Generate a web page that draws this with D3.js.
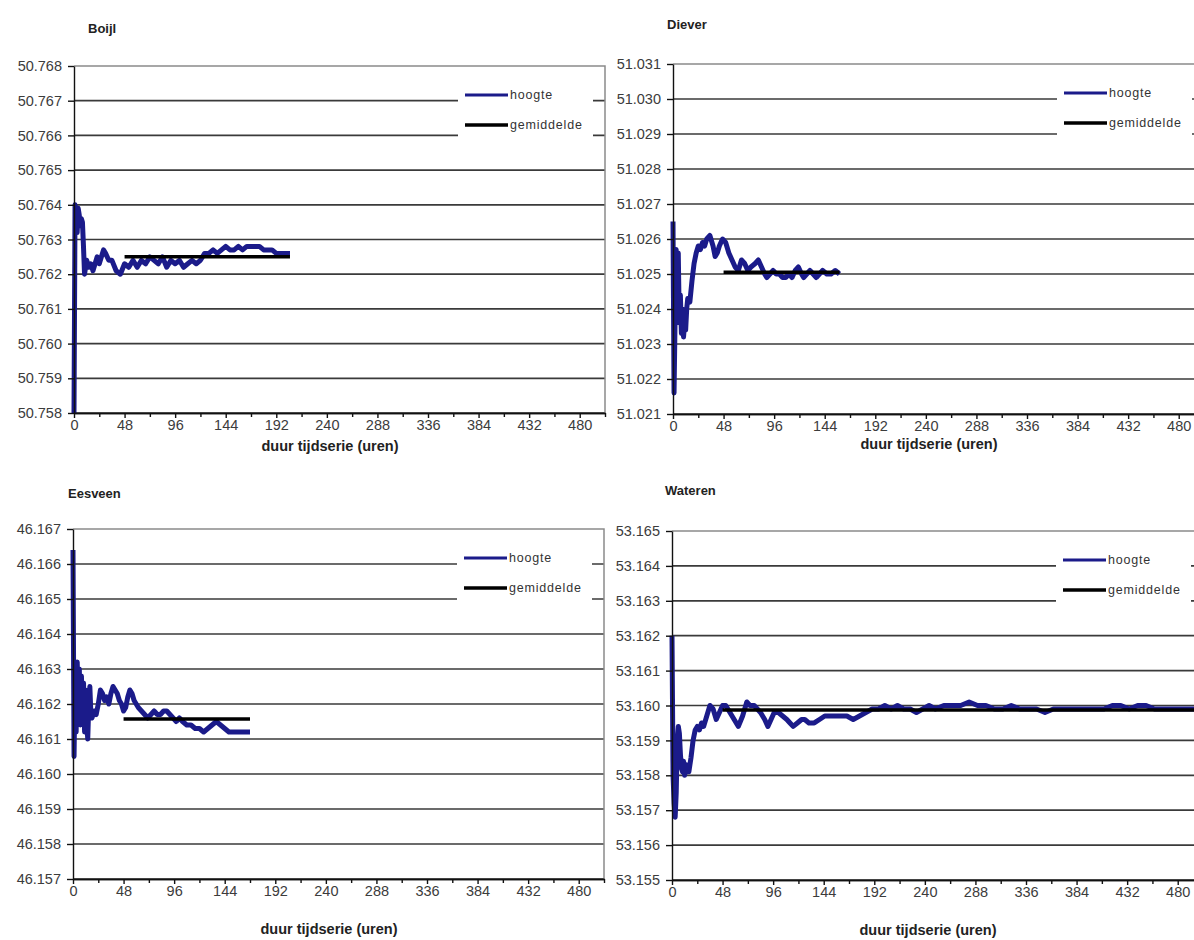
<!DOCTYPE html>
<html>
<head>
<meta charset="utf-8">
<script src="https://cdn.jsdelivr.net/npm/d3@7"></script>
<style>
    body { margin: 0; background: #fff; }
    svg text { font-family: "Liberation Sans", Arial, sans-serif; }
    .tick text { fill: #3c3c3c; font-size: 14.5px; }
    .axis path, .axis line { stroke: #111; stroke-width: 1.4; }
    .grid { stroke: #3a3a3a; stroke-width: 1.7; }
    .border { stroke: #8a8a8a; stroke-width: 1.5; fill: none; }
    .ptitle { font-weight: bold; font-size: 13px; fill: #222; }
    .xtitle { font-weight: bold; font-size: 14.5px; fill: #222; }
    .legtext { font-size: 12.5px; fill: #333; letter-spacing: 0.8px; }
</style>
</head>
<body>
<svg id="chart" width="1194" height="940"></svg>
<script>

// shared x axis (duur tijdserie in uren)
const hourTicks = [0, 48, 96, 144, 192, 240, 288, 336, 384, 432, 480];
const hourMinor = [24, 72, 120, 168, 216, 264, 312, 360, 408, 456, 504];
const legendLabels = ["hoogte", "gemiddelde"];

// Boijl
const boijlDomain = [50.758, 50.768];
const boijlHours = [0, 1, 2, 3, 4, 5, 6, 7, 8, 9, 10, 12, 14, 16, 18, 20, 22, 24, 28, 30, 33, 36, 40, 44, 48, 52, 56, 60, 64, 68, 72, 76, 80, 84, 88, 92, 96, 100, 104, 108, 112, 116, 120, 124, 128, 132, 136, 140, 144, 148, 152, 156, 160, 164, 168, 172, 176, 180, 184, 188, 192, 196, 200, 205];
const boijlHoogte = [50.7580, 50.7640, 50.7638, 50.7632, 50.7639, 50.7637, 50.7634, 50.7636, 50.7635, 50.7628, 50.7620, 50.7624, 50.7622, 50.7623, 50.7621, 50.7623, 50.7625, 50.7623, 50.7627, 50.7626, 50.7624, 50.7624, 50.7621, 50.7620, 50.7623, 50.7622, 50.7624, 50.7622, 50.7624, 50.7623, 50.7625, 50.7624, 50.7623, 50.7625, 50.7622, 50.7624, 50.7623, 50.7624, 50.7622, 50.7623, 50.7624, 50.7623, 50.7624, 50.7626, 50.7626, 50.7627, 50.7626, 50.7627, 50.7628, 50.7627, 50.7627, 50.7628, 50.7627, 50.7628, 50.7628, 50.7628, 50.7628, 50.7627, 50.7627, 50.7627, 50.7626, 50.7626, 50.7626, 50.7626];
const boijlGem = 50.7625;
const boijlGemHours = [48, 205];

// Diever
const dieverDomain = [51.021, 51.031];
const dieverHours = [0, 1, 2, 3, 4, 5, 6, 7, 8, 9, 10, 11, 12, 13, 14, 16, 18, 20, 22, 24, 26, 28, 30, 32, 35, 38, 40, 42, 44, 47, 50, 53, 56, 59, 62, 65, 68, 71, 74, 78, 81, 84, 87, 89, 92, 95, 98, 101, 104, 107, 110, 113, 116, 119, 122, 124, 127, 130, 133, 136, 139, 142, 146, 150, 154, 158];
const dieverHoogte = [51.0265, 51.0216, 51.0238, 51.0257, 51.0240, 51.0256, 51.0236, 51.0244, 51.0233, 51.0240, 51.0232, 51.0236, 51.0234, 51.0240, 51.0243, 51.0242, 51.0248, 51.0253, 51.0256, 51.0258, 51.0257, 51.0259, 51.0258, 51.0260, 51.0261, 51.0258, 51.0255, 51.0256, 51.0258, 51.0260, 51.0259, 51.0256, 51.0254, 51.0252, 51.0251, 51.0254, 51.0253, 51.0251, 51.0252, 51.0253, 51.0254, 51.0252, 51.0250, 51.0249, 51.0250, 51.0251, 51.0250, 51.0250, 51.0249, 51.0249, 51.0250, 51.0249, 51.0251, 51.0252, 51.0250, 51.0249, 51.0250, 51.0251, 51.0250, 51.0249, 51.0250, 51.0251, 51.0250, 51.0250, 51.0251, 51.0250];
const dieverGem = 51.02505;
const dieverGemHours = [48, 158];

// Eesveen
const eesveenDomain = [46.157, 46.167];
const eesveenHours = [0, 1, 2, 3, 4, 5, 6, 7, 8, 9, 10, 11, 12, 13, 14, 15, 16, 17, 18, 20, 22, 24, 26, 28, 30, 32, 34, 36, 38, 40, 42, 44, 46, 48, 50, 52, 54, 56, 58, 60, 62, 65, 68, 71, 74, 77, 80, 83, 86, 89, 92, 95, 98, 101, 104, 108, 112, 116, 120, 124, 128, 132, 136, 140, 144, 148, 152, 156, 160, 164, 168];
const eesveenHoogte = [46.1664, 46.1605, 46.1628, 46.1612, 46.1632, 46.1618, 46.1630, 46.1614, 46.1628, 46.1617, 46.1626, 46.1612, 46.1624, 46.1615, 46.1610, 46.1620, 46.1625, 46.1617, 46.1616, 46.1618, 46.1617, 46.1620, 46.1624, 46.1623, 46.1621, 46.1622, 46.1620, 46.1623, 46.1625, 46.1624, 46.1623, 46.1621, 46.1620, 46.1618, 46.1619, 46.1622, 46.1624, 46.1623, 46.1621, 46.1620, 46.1619, 46.1618, 46.1617, 46.1616, 46.1617, 46.1618, 46.1617, 46.1617, 46.1618, 46.1618, 46.1617, 46.1616, 46.1615, 46.1616, 46.1615, 46.1614, 46.1614, 46.1613, 46.1613, 46.1612, 46.1613, 46.1614, 46.1615, 46.1614, 46.1613, 46.1612, 46.1612, 46.1612, 46.1612, 46.1612, 46.1612];
const eesveenGem = 46.16157;
const eesveenGemHours = [48, 168];

// Wateren
const waterenDomain = [53.155, 53.165];
const waterenHours = [0, 1, 2, 3, 4, 5, 6, 7, 8, 9, 10, 11, 12, 14, 16, 18, 20, 22, 24, 26, 28, 30, 33, 36, 39, 42, 45, 48, 51, 55, 59, 63, 67, 71, 74, 78, 81, 84, 88, 91, 94, 97, 101, 105, 109, 112, 115, 119, 123, 126, 130, 135, 140, 145, 150, 155, 160, 166, 172, 178, 184, 190, 196, 202, 208, 214, 220, 226, 232, 238, 244, 250, 258, 266, 274, 282, 290, 298, 306, 314, 322, 330, 338, 346, 354, 362, 370, 378, 386, 394, 402, 410, 418, 426, 434, 442, 450, 458, 466, 474, 482, 490, 498];
const waterenHoogte = [53.1620, 53.1580, 53.1572, 53.1568, 53.1575, 53.1590, 53.1594, 53.1592, 53.1586, 53.1582, 53.1581, 53.1584, 53.1580, 53.1583, 53.1581, 53.1585, 53.1590, 53.1593, 53.1594, 53.1593, 53.1595, 53.1594, 53.1597, 53.1600, 53.1599, 53.1596, 53.1598, 53.1600, 53.1600, 53.1598, 53.1596, 53.1594, 53.1597, 53.1601, 53.1600, 53.1600, 53.1599, 53.1598, 53.1596, 53.1594, 53.1596, 53.1598, 53.1598, 53.1597, 53.1596, 53.1595, 53.1594, 53.1595, 53.1596, 53.1596, 53.1595, 53.1595, 53.1596, 53.1597, 53.1597, 53.1597, 53.1597, 53.1597, 53.1596, 53.1597, 53.1598, 53.1599, 53.1599, 53.1600, 53.1599, 53.1600, 53.1599, 53.1599, 53.1598, 53.1599, 53.1600, 53.1599, 53.1600, 53.1600, 53.1600, 53.1601, 53.1600, 53.1600, 53.1599, 53.1599, 53.1600, 53.1599, 53.1599, 53.1599, 53.1598, 53.1599, 53.1599, 53.1599, 53.1599, 53.1599, 53.1599, 53.1599, 53.1600, 53.1600, 53.1599, 53.1600, 53.1600, 53.1599, 53.1599, 53.1599, 53.1599, 53.1599, 53.1599];
const waterenGem = 53.15987;
const waterenGemHours = [48, 498];


class HoogtePanel {

    constructor(svg, opts) {
        this.svg = svg;
        this.opts = opts;
        this.width = 531;
        this.render();
    }

    render() {
        let o = this.opts;
        let w = this.width;
        let h = o.bottom - o.top;

        let x = d3.scaleLinear().domain([0, 504]).range([0, w]);
        let y = d3.scaleLinear().domain(o.domain).range([h, 0]);

        let g = this.svg.append("g")
            .attr("transform", "translate(" + o.left + "," + o.top + ")");

        // panel title
        g.append("text")
            .attr("class", "ptitle")
            .attr("x", o.titleX)
            .attr("y", o.titleY)
            .text(o.name);

        // gridlines, the top one is the plot border
        let yTicks = y.ticks(10);
        g.selectAll(".grid").data(yTicks.slice(0, -1)).join("line")
            .attr("class", "grid")
            .attr("x1", 0)
            .attr("x2", w)
            .attr("y1", d => y(d))
            .attr("y2", d => y(d));

        g.append("path")
            .attr("class", "border")
            .attr("d", "M0," + y(o.domain[1]) + "H" + w + "V" + h);

        // legend box hides the gridlines behind it
        g.append("rect")
            .attr("x", 384)
            .attr("y", 14)
            .attr("width", 135)
            .attr("height", 64)
            .style("fill", "#fff");

        let legend = g.selectAll(".leg").data(legendLabels).join("g")
            .attr("class", "leg")
            .attr("transform", (d, i) => "translate(391," + (29 + i * 30) + ")");
        legend.append("line")
            .attr("x1", 0)
            .attr("x2", 43)
            .style("stroke", (d, i) => i == 0 ? "#1b1b8a" : "#000")
            .style("stroke-width", (d, i) => i == 0 ? 3 : 3.5);
        legend.append("text")
            .attr("class", "legtext")
            .attr("x", 45)
            .attr("dominant-baseline", "central")
            .text(d => d);

        // the measured heights
        let pts = o.hours.map((t, i) => [t, o.values[i]]);
        let line = d3.line().x(d => x(d[0])).y(d => y(d[1]));

        g.append("path")
            .datum(pts)
            .attr("d", line)
            .style("fill", "none")
            .style("stroke", "#1b1b8a")
            .style("stroke-width", 5)
            .style("stroke-linejoin", "round");

        // the mean
        g.append("line")
            .attr("x1", x(o.gemHours[0]))
            .attr("x2", x(o.gemHours[1]))
            .attr("y1", y(o.gem))
            .attr("y2", y(o.gem))
            .style("stroke", "#000")
            .style("stroke-width", 3.5);

        // axes
        g.append("g")
            .attr("class", "axis")
            .call(d3.axisLeft(y).tickValues(yTicks)
                .tickFormat(d3.format(".3f")).tickSize(6).tickPadding(6).tickSizeOuter(0));

        g.append("g")
            .attr("class", "axis")
            .attr("transform", "translate(0," + h + ")")
            .call(d3.axisBottom(x).tickValues(hourMinor).tickFormat("").tickSize(4).tickSizeOuter(0));

        g.append("g")
            .attr("class", "axis")
            .attr("transform", "translate(0," + h + ")")
            .call(d3.axisBottom(x).tickValues(hourTicks).tickSize(5).tickPadding(2).tickSizeOuter(0));

        g.append("text")
            .attr("class", "xtitle")
            .attr("x", 256)
            .attr("y", h + o.xTitleDy)
            .attr("text-anchor", "middle")
            .attr("dominant-baseline", "central")
            .text("duur tijdserie (uren)");
    }
}

let svg = d3.select("#chart");
svg.append("rect").attr("width", 1194).attr("height", 940).style("fill", "#fff");

new HoogtePanel(svg, { name: "Boijl", left: 74, top: 66, bottom: 413, titleX: 14, titleY: -33, xTitleDy: 33,
    domain: boijlDomain, hours: boijlHours, values: boijlHoogte, gem: boijlGem, gemHours: boijlGemHours });
new HoogtePanel(svg, { name: "Diever", left: 673, top: 64, bottom: 414, titleX: -6, titleY: -35, xTitleDy: 30,
    domain: dieverDomain, hours: dieverHours, values: dieverHoogte, gem: dieverGem, gemHours: dieverGemHours });
new HoogtePanel(svg, { name: "Eesveen", left: 73, top: 529, bottom: 879, titleX: -5, titleY: -31, xTitleDy: 50,
    domain: eesveenDomain, hours: eesveenHours, values: eesveenHoogte, gem: eesveenGem, gemHours: eesveenGemHours });
new HoogtePanel(svg, { name: "Wateren", left: 672, top: 531, bottom: 880, titleX: -7, titleY: -36, xTitleDy: 50,
    domain: waterenDomain, hours: waterenHours, values: waterenHoogte, gem: waterenGem, gemHours: waterenGemHours });

</script>
</body>
</html>
